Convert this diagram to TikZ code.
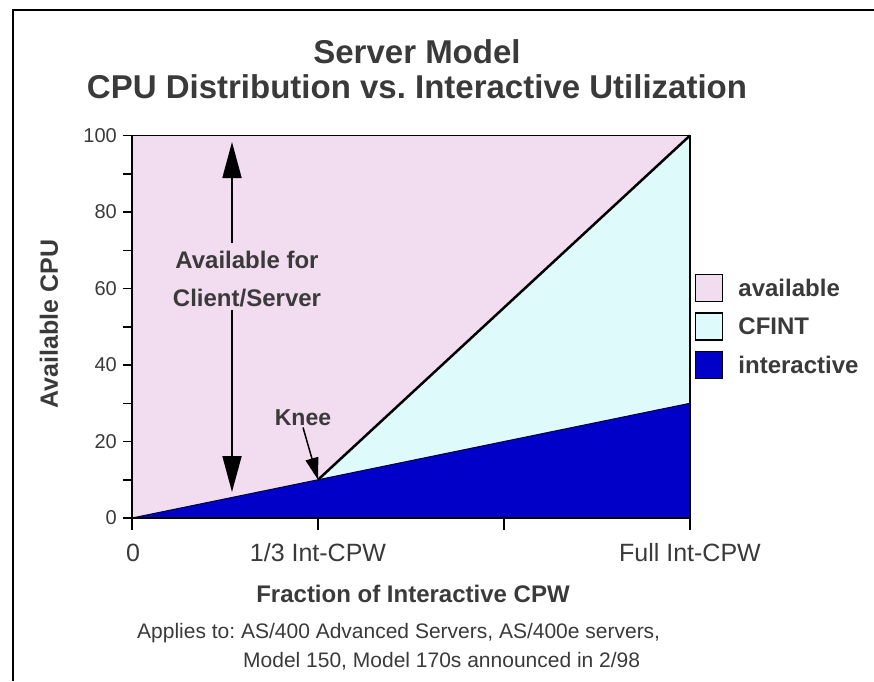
\documentclass[tikz,border=0pt]{standalone}
\usepackage{fontspec}
\setmainfont{Liberation Sans}
\usetikzlibrary{arrows.meta,positioning}
\frenchspacing

\definecolor{availcol}{RGB}{242,220,240}
\definecolor{cfintcol}{RGB}{222,250,250}
\definecolor{intcol}{RGB}{0,0,200}
\definecolor{textgray}{RGB}{58,58,58}

\tikzset{
  lbl/.style={text=textgray, inner sep=0pt},
  titlelbl/.style={lbl, font=\bfseries\fontsize{33}{38}\selectfont},
  boldlbl/.style={lbl, font=\bfseries\fontsize{24}{38}\selectfont},
  ticklbl/.style={lbl, font=\fontsize{20}{24}\selectfont},
  xlbl/.style={lbl, font=\fontsize{25}{30}\selectfont},
  notelbl/.style={lbl, font=\fontsize{21}{25}\selectfont},
  keybox/.style={draw=black, line width=1.5pt, minimum size=27pt, inner sep=0pt},
  bigtip/.style={line width=1.8pt, -{Triangle[length=36pt,width=19pt]}},
}

\begin{document}
\begin{tikzpicture}[x=1pt, y=-1pt]
    \useasboundingbox (0,0) rectangle (874,681);
    \draw[line width=2.5pt] (13,681) -- (13,10) -- (874,10);

    \node (title)    at (417,63)  [titlelbl, anchor=base] {Server Model};
    \node (subtitle) at (417,98)  [titlelbl, anchor=base] {CPU Distribution vs. Interactive Utilization};

    \begin{scope}[shift={(132,518)}, x=558pt, y=3.825pt]
      \coordinate (origin)   at (0,0);
      \coordinate (knee)     at (1/3,10);
      \coordinate (topright) at (1,100);
      \coordinate (lowright) at (1,30);
      \coordinate (botright) at (1,0);
      \fill[availcol] (origin) rectangle (topright);
      \fill[cfintcol] (knee) -- (topright) -- (lowright) -- cycle;
      \filldraw[fill=intcol, draw=black!70!intcol, line width=1pt] (origin) -- (lowright) -- (botright) -- cycle;
      \draw[line width=2.5pt] (knee) -- (topright);
      \draw[line width=1.5pt] (0,100) -- (topright) -- (botright);
      \draw[line width=1.8pt] (0,-3.1) -- (0,100);
      \draw[line width=1.5pt] (origin) -- (botright);
      \foreach \v in {0,10,...,100}
        \draw[line width=1.5pt] (0,\v) -- ++(-9pt,0pt);
      \foreach \v in {0,20,...,100}
        \node (ytick\v) at (0,\v) [ticklbl, anchor=east, xshift=-15pt] {\v};
      \foreach \f in {0,1/3,2/3,1}
        \draw[line width=1.5pt] (\f,0) -- ++(0pt,-12pt);
    \end{scope}

    \node (ylabel)   at (49,324)  [boldlbl, font=\bfseries\fontsize{25}{30}\selectfont, rotate=90] {Available CPU};

    \node (xzero)    at (133,561) [xlbl, anchor=base] {0};
    \node (xthird)   at (318,561) [xlbl, anchor=base] {1/3 Int-CPW};
    \node (xfull)    at (690,561) [xlbl, anchor=base] {Full Int-CPW};
    \node (xlabel)   at (413,602) [boldlbl, anchor=base] {Fraction of Interactive CPW};

    \node (applies)  at (137,638) [notelbl, anchor=base west] {Applies to: AS/400 Advanced Servers, AS/400e servers,};
    \node (models)   at (243,667) [notelbl, anchor=base west] {Model 150, Model 170s announced in 2/98};

    \node (clientsrv) at (247,279) [boldlbl, align=center] {Available for\\Client/Server};
    \coordinate (csup)   at (232,142);
    \coordinate (csdown) at (232,492);
    \draw[bigtip] ([yshift=8pt]clientsrv.north -| csup) -- (csup);
    \draw[bigtip] ([yshift=-3pt]clientsrv.south -| csdown) -- (csdown);

    \node (kneetxt)  at (303,425) [boldlbl, font=\bfseries\fontsize{23}{28}\selectfont, anchor=base] {Knee};
    \draw[line width=1.5pt, -{Triangle[length=22pt,width=13pt]}] ([yshift=-2pt]kneetxt.south) -- (knee);

    \node (availbox) at (709,288) [keybox, fill=availcol] {};
    \node (cfintbox) [keybox, fill=cfintcol, below=10pt of availbox] {};
    \node (intbox)   [keybox, fill=intcol, below=10pt of cfintbox] {};
    \node (availtxt) [boldlbl, right=15pt of availbox] {available};
    \node (cfinttxt) [boldlbl, right=15pt of cfintbox] {CFINT};
    \node (inttxt)   [boldlbl, right=15pt of intbox] {interactive};
\end{tikzpicture}
\end{document}
